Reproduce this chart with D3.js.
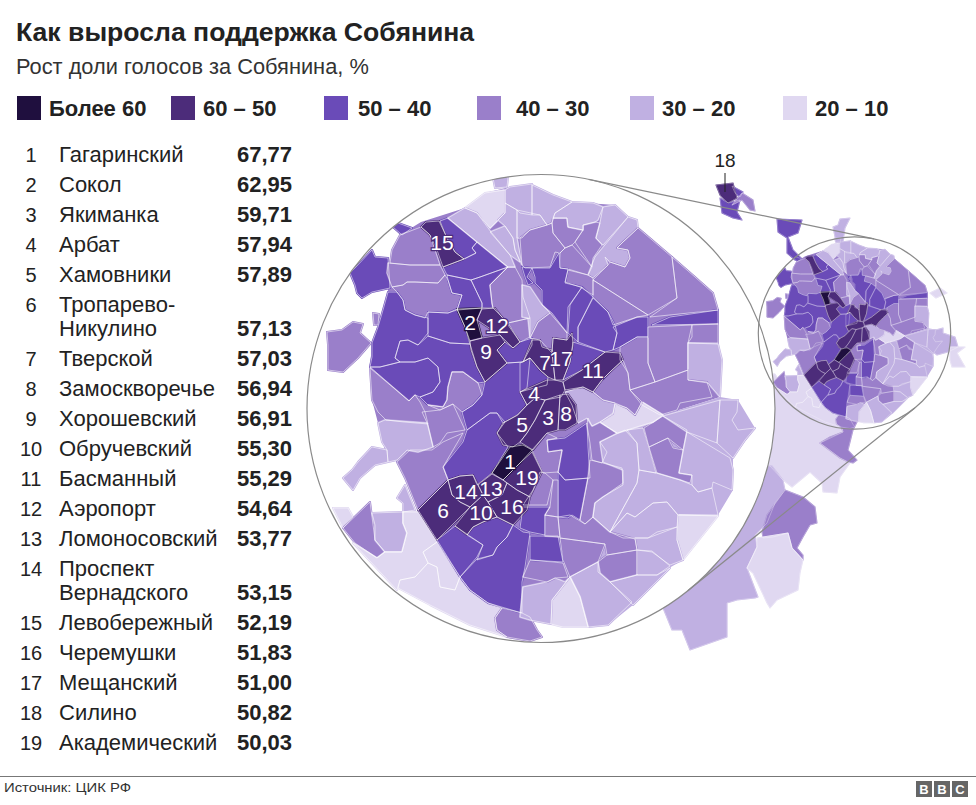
<!DOCTYPE html>
<html>
<head>
<meta charset="utf-8">
<style>
  html, body { margin: 0; padding: 0; background: #fff; }
  text { font-family: "Liberation Sans", Arial, sans-serif; fill: #222; }
</style>
</head>
<body>
<svg id="chart" width="976" height="805"></svg>
<script src="https://cdnjs.cloudflare.com/ajax/libs/d3/7.8.5/d3.min.js"></script>
<script>
// table
var tableNames = [["Гагаринский"],["Сокол"],["Якиманка"],["Арбат"],["Хамовники"],["Тропарево-","Никулино"],["Тверской"],["Замоскворечье"],["Хорошевский"],["Обручевский"],["Басманный"],["Аэропорт"],["Ломоносовский"],["Проспект","Вернадского"],["Левобережный"],["Черемушки"],["Мещанский"],["Силино"],["Академический"]];
var tableValues = [67.77,62.95,59.71,57.94,57.89,57.13,57.03,56.94,56.91,55.30,55.29,54.64,53.77,53.15,52.19,51.83,51.00,50.82,50.03];

// legend
var legendLabels = ["Более 60","60 – 50","50 – 40","40 – 30","30 – 20","20 – 10"];
var legendColors = ["#1f0f3e","#4c2c7a","#6a4bb8","#9a7fca","#c0b0e2","#e0d8f1"];

function d(share, ring){
  return { share: share, ring: ring.trim().split(/\s+/).map(function(p){ return p.split(",").map(Number); }) };
}
function rank(n){ return tableValues[n-1]; }

// map units of the enlarged city; hand traced, shares are estimated from the class colour
var baseDistricts = [
  d(35,"390,263 400,235 421,222 465,208 485,193 510,187 553,195 572,202 615,205 638,228 672,257 713,293 718,310 718,343 722,360 720,397 663,415 600,430 588,520 588,627 551,624 530,620 520,617 488,603 470,590 460,577 437,540 418,510 405,478 397,462 385,450 378,423 372,400 370,367 372,343 378,327 383,310 388,292 387,273"),
  d(25,"588,420 663,415 720,397 738,400 755,428 733,458 733,490 718,515 683,560 657,575 633,605 608,625 588,627")
];
var islandDistricts = [
  d(45,"350,273 355,268 372,250 375,257 388,258 390,288 372,292 362,298 357,293 355,285"),
  d(35,"327,332 342,330 353,322 363,324 360,333 371,343 358,358 343,372 328,370 328,345"),
  d(45,"393,227 398,223 412,228 402,235"),
  d(35,"373,313 379,314 378,325 374,325"),
  d(25,"343,478 352,470 358,462 372,447 387,450 388,462 375,465 360,478 353,490"),
  d(25,"397,498 405,485 415,510 403,512 403,503"),
  d(15,"333,508 348,508 353,517 343,528"),
  d(35,"343,528 370,502 372,517 375,540 385,552 377,558 355,543"),
  d(25,"493,178 508,177 507,187 495,188")
];
var northDistricts = [
  d(35,"390,263 392,250 400,235 421,227 430,235 440,265 410,265"),
  d(35,"388,263 410,265 440,265 445,275 438,283 415,282 407,282 403,285 392,287 387,273"),
  d(35,"392,287 403,285 407,282 415,282 438,283 445,275 448,280 452,293 462,295 457,310 448,313 428,312 425,318 415,315 405,310 403,300 397,292"),
  d(45,"440,221 448,218 477,242 472,248 476,253 464,259 455,252 447,238"),
  d(45,"443,267 464,259 476,253 472,248 477,242 508,267 480,277 471,280 447,275"),
  d(45,"447,275 471,280 482,303 482,308 457,310 462,295 452,293 448,280"),
  d(45,"471,280 480,277 508,267 490,285 492,303 493,308 482,308 482,303"),
  d(35,"490,285 508,267 515,267 522,280 523,297 530,318 508,323 493,308 492,303"),
  d(35,"508,323 530,318 530,337 520,342"),
  d(15,"465,208 485,193 505,190 505,213 498,220 490,228 477,213"),
  d(25,"448,218 465,208 477,213 491,232 510,255 515,267 508,267"),
  d(25,"490,232 505,226 513,238 515,250 520,262 510,255"),
  d(25,"498,220 505,213 505,203 517,210 517,238 522,265 515,250 513,238 505,226"),
  d(25,"505,190 510,187 532,184 532,215 520,213 517,210 505,203"),
  d(25,"532,185 553,195 572,202 555,213 552,223 547,225 540,215 532,215"),
  d(25,"517,210 540,215 547,225 530,230 522,238 517,238"),
  d(35,"520,238 530,230 547,225 552,223 553,233 565,248 560,253 555,252 550,267 525,268 522,265"),
  d(35,"552,223 553,218 567,218 568,227 583,230 575,242 572,245 565,248 553,233"),
  d(35,"583,230 583,225 595,222 600,223 596,238 602,245 593,258 592,267 575,242"),
  d(35,"565,248 572,245 592,267 588,275 568,269 560,268 560,253"),
  d(25,"555,213 572,202 593,203 603,207 598,220 595,222 583,225 583,230 568,227 567,218 553,218"),
  d(25,"603,207 615,205 628,217 603,245 596,238 600,223"),
  d(25,"628,217 637,220 638,228 623,242 617,248 628,250 630,258 625,267 610,262 605,257 608,265 593,278 588,275 595,257"),
  d(35,"638,228 672,257 677,298 648,315 593,280 608,265 610,262 625,267 630,258 628,250 617,248 623,242"),
  d(35,"672,257 695,277 713,293 718,310 650,317 677,298"),
  d(45,"652,325 670,317 718,310 718,324"),
  d(35,"648,327 692,325 692,337 688,343 688,370 655,382 648,363"),
  d(35,"692,325 718,324 718,343 688,343"),
  d(25,"688,343 718,344 722,360 720,397 708,383 688,380"),
  d(35,"630,390 655,382 688,370 688,380 707,382 712,397 680,403 677,410 660,415 642,405"),
  d(35,"620,347 637,337 648,337 648,363 655,382 630,390 628,373 620,360"),
  d(45,"613,327 637,317 648,317 648,337 637,337 620,347 613,350 617,333"),
  d(35,"593,280 648,315 637,317 613,325 608,312 593,297"),
  d(35,"565,282 568,270 588,275 593,278 593,295 580,287"),
  d(45,"532,268 550,268 559,253 560,268 568,269 565,283 582,287 568,307 567,333 552,313 542,305 542,290 535,283 535,277"),
  d(45,"522,267 532,268 527,277 533,283 528,285 525,277"),
  d(45,"582,287 593,297 578,327 578,342 568,333 570,305"),
  d(45,"593,298 608,312 615,325 617,333 613,350 605,352 578,342 578,327"),
  d(25,"522,285 530,287 542,305 550,313 538,322 530,338 528,318 522,317"),
  d(35,"538,322 550,313 567,333 567,340 553,338 552,353 540,340 530,338"),
  d(45,"573,342 605,352 582,370 563,380 570,362"),
  d(rank(15),"421,227 426,222 439,221 447,238 455,252 464,259 443,267 437,250 430,235")
];
var westDistricts = [
  d(45,"388,292 397,292 403,300 405,310 415,315 428,318 428,333 418,345 408,340 400,341 395,358 400,362 380,367 370,367 372,357 372,343 378,327 383,310"),
  d(45,"428,318 428,312 448,313 457,309 465,327 470,344 450,343 428,336"),
  d(45,"395,358 400,341 408,340 418,345 428,336 450,343 470,344 477,367 485,382 478,383 463,372 452,372 448,387 447,400 443,407 428,405 420,397 433,392 440,382 438,367 428,358 415,362 400,362"),
  d(45,"370,367 380,367 400,362 415,362 428,358 438,367 440,382 433,392 420,397 415,395 409,401"),
  d(35,"370,368 409,401 415,395 420,402 425,412 428,424 404,422 386,420 378,412 372,400"),
  d(35,"422,412 440,410 453,404 465,430 447,433 440,443 433,447 428,425"),
  d(35,"448,387 452,372 463,372 478,383 482,395 473,405 462,412 453,404 440,410 428,405 443,407 447,400"),
  d(45,"485,382 507,363 523,362 530,358 527,388 520,392 527,405 517,415 503,423 497,413 490,413 467,430 462,412 473,405 482,395"),
  d(45,"443,467 463,442 467,430 490,413 497,413 505,422 497,433 508,447 492,473 477,485 473,475 460,476 448,480"),
  d(35,"397,462 410,450 432,450 443,442 463,433 443,467 448,480 418,510 405,478"),
  d(25,"378,423 385,420 427,423 433,447 418,452 407,450 397,460 388,462 387,450 382,442"),
  d(25,"372,513 403,512 403,523 407,533 402,552 385,552 375,540 375,525"),
  d(15,"403,512 418,512 437,542 423,552 428,563 415,577 400,580 397,590 353,543 377,558 385,552 402,552 407,533 403,523"),
  d(15,"437,542 460,577 455,590 440,587 437,567 428,563 423,552"),
  d(15,"398,588 400,580 415,577 428,563 437,567 440,587 455,590 460,577 470,590 488,603 502,608 495,618 497,630 507,637 470,625 430,605"),
  d(35,"502,608 522,613 530,617 537,630 542,637 530,641 507,637 497,630 495,618")
];
var southDistricts = [
  d(45,"437,540 455,526 483,545 477,557 460,577"),
  d(45,"467,535 473,527 483,522 497,517 513,525 507,537 497,547 493,555 477,560 483,545"),
  d(45,"460,577 477,559 493,555 497,547 507,537 513,525 523,532 530,533 525,567 522,582 522,613 488,603 470,590"),
  d(25,"627,430 643,428 656,473 639,470 637,443"),
  d(35,"644,428 663,416 687,430 683,450 668,438 649,447"),
  d(35,"649,447 668,438 673,448 683,450 679,473 692,475 690,483 680,480 657,473"),
  d(25,"687,432 730,458 733,470 732,490 713,482 712,488 698,492 692,485 692,475 679,473"),
  d(25,"663,416 720,400 717,443 687,432"),
  d(25,"720,400 738,400 737,412 732,420 738,430 755,428 745,440 733,458 717,443"),
  d(25,"639,470 656,473 680,480 692,485 698,492 712,488 718,515 678,515 667,502 653,503 635,517 627,513 610,532 637,483"),
  d(15,"678,515 718,516 683,560 677,540"),
  d(25,"610,532 627,513 635,517 653,503 667,502 678,515 677,527 657,532 648,538 623,538"),
  d(25,"635,538 648,538 677,527 677,540 683,560 670,565 652,552 637,550"),
  d(25,"637,550 652,551 670,566 657,575 637,575"),
  d(35,"558,517 570,515 585,524 593,517 610,532 635,539 637,550 607,555 605,544 560,538"),
  d(35,"560,538 605,544 598,562 570,577 563,560"),
  d(35,"607,555 637,550 637,575 610,582 598,572 598,562"),
  d(25,"570,577 598,562 600,573 610,582 632,602 608,625 588,627 580,597"),
  d(25,"610,582 637,575 657,575 670,568 633,605"),
  d(15,"570,577 580,597 588,627 563,627 551,624 552,600"),
  d(25,"523,587 547,582 555,578 565,582 570,577 552,600 551,624 530,620 520,617"),
  d(35,"530,560 563,563 568,577 555,578 547,582 523,577"),
  d(45,"530,536 558,536 563,562 530,560"),
  d(35,"545,515 558,517 560,537 545,536"),
  d(45,"523,507 550,507 545,515 545,535 530,532 520,528"),
  d(35,"540,472 545,473 553,480 547,505 523,505 533,490"),
  d(35,"553,480 558,480 558,517 545,515 550,507"),
  d(45,"558,472 565,480 588,478 580,520 572,515 568,518 558,517"),
  d(45,"547,440 565,438 587,423 588,447 590,478 565,480 558,472 562,450 548,452"),
  d(35,"532,450 547,433 557,438 547,440 548,452 562,450 558,472 543,473 540,467"),
  d(35,"590,460 603,463 622,468 623,483 603,497 595,503 593,517 585,524 580,520 588,478"),
  d(35,"588,418 592,426 600,422 617,433 600,442 607,452 602,463 592,460 590,443 587,425"),
  d(25,"600,442 625,430 637,443 639,470 637,483 610,532 593,517 595,503 603,497 623,485 623,470 603,462"),
  d(15,"600,422 613,413 615,404 627,408 635,415 642,402 663,415 653,422 617,433"),
  d(25,"565,392 583,387 593,392 603,400 615,403 613,414 600,422 592,426 587,418 578,423 572,405"),
  d(35,"593,392 602,380 610,372 623,360 628,373 630,390 642,402 635,415 627,408 615,403 603,400")
];
var centerDistricts = [
  d(45,"513,348 520,342 532,338 532,345 523,362 507,363 497,350 505,342"),
  d(45,"520,363 530,358 540,370 548,377 547,385 527,390 520,392"),
  d(rank(2),"457,309 482,308 477,320 482,338 470,341 465,327"),
  d(rank(12),"482,309 495,308 508,325 520,342 513,348 500,335 477,320"),
  d(rank(9),"470,341 482,338 500,335 505,342 497,350 507,363 485,382 477,367 471,350"),
  d(rank(7),"532,340 540,340 542,347 552,350 555,380 548,377 540,370 530,358 523,362"),
  d(rank(17),"553,338 567,340 572,333 573,345 570,362 563,380 555,380 552,353"),
  d(rank(11),"563,382 582,370 605,352 620,353 623,360 610,372 602,380 593,392 583,387 565,390"),
  d(rank(4),"520,392 547,380 555,380 563,382 565,390 561,397 545,400 535,398 527,405"),
  d(rank(5),"497,433 503,423 518,415 527,405 535,398 545,400 535,420 527,433 520,442 513,447 503,445"),
  d(rank(3),"545,400 560,395 558,430 547,433 533,450 520,442 527,433 535,420"),
  d(rank(8),"560,395 568,394 576,405 577,423 565,430 558,430"),
  d(rank(19),"503,480 520,463 532,452 542,472 530,497 517,490"),
  d(rank(1),"492,473 510,447 523,445 532,450 520,463 503,480"),
  d(rank(13),"478,485 492,474 503,480 507,483 502,495 488,502 483,495"),
  d(rank(14),"448,480 460,476 473,475 478,485 483,495 470,507 460,502 452,495"),
  d(rank(6),"418,510 448,480 452,495 460,502 470,507 437,540"),
  d(rank(10),"455,526 470,507 483,495 488,502 497,517 483,522 473,527 467,535"),
  d(rank(16),"488,502 502,495 507,483 517,490 530,497 527,510 513,525 497,517")
];
// regions that only show on the small overview, in overview units
var outerRegions = [
  d(15,"740,380 800,377 813,390 827,407 840,417 843,432 820,443 840,458 850,463 840,477 837,493 823,492 822,483 810,472 792,487 783,480 770,466 740,466"),
  d(25,"760,464 772,466 783,480 785,490 775,503 767,523 755,535 757,547 747,568 758,597 755,598 737,600 727,603 727,637 690,650 682,630 672,630 663,608 700,540"),
  d(35,"767,515 785,490 803,497 815,507 817,523 810,525 803,537 797,548 803,555 803,560 792,548 788,533 773,537 763,538 762,532"),
  d(15,"757,538 763,537 788,533 792,548 803,560 800,573 798,590 777,600 770,608 767,603 753,573 747,568 757,547"),
  d(35,"838,417 857,422 853,430 848,450 857,460 853,463 848,462 840,458 820,443 830,437 843,432"),
  d(45,"720,198 728,203 740,200 737,212 742,220 733,218 722,213"),
  d(45,"732,186 743,192 740,197 735,193"),
  d(35,"742,193 753,200 755,211 750,210 742,200 732,205"),
  d(rank(18),"716,185 733,183 737,198 728,203 720,195"),
  d(45,"777,219 802,220 798,233 788,237 793,250 803,260 795,260 787,253 787,238 778,232"),
  d(25,"833,227 838,225 840,219 850,218 845,228 843,242 837,243 835,237"),
  d(15,"930,293 940,288 947,293 936,298"),
  d(25,"928,332 943,328 943,333 955,337 958,347 948,352 937,355 927,347"),
  d(15,"950,347 965,347 957,353 965,367 952,367 950,360")
];
var cityDistricts = islandDistricts.concat(northDistricts, westDistricts, southDistricts, centerDistricts);

// number labels on the enlarged map, in map units
var labelRanks = [15,2,12,9,7,17,11,4,5,3,8,1,19,14,13,10,6,16];
var labelPoints = [[442,242],[470,322],[497,325],[486,351],[545,362],[561,358],[593,370],[534,393],[522,424],[548,417],[566,413],[510,461],[527,477],[466,491],[491,488],[481,512],[443,510],[512,506]];

var svg = d3.select("#chart");
var color = d3.scaleThreshold().domain([20,30,40,50,60]).range(legendColors.slice().reverse());

// header
svg.append("text").attr("x",16).attr("y",41).style("font-size","26.6px").style("font-weight","bold").text("Как выросла поддержка Собянина");
svg.append("text").attr("x",16).attr("y",74).style("font-size","21.8px").style("fill","#333").text("Рост доли голосов за Собянина, %");

// legend
var legendX = d3.scaleOrdinal().domain(legendLabels).range([17,171,324,477,630,783]);
var legendTextX = d3.scaleOrdinal().domain(legendLabels).range([49,203,358,516,662,815]);
var legend = svg.append("g").selectAll("g").data(legendLabels).join("g");
legend.append("rect").attr("x",function(l){ return legendX(l); }).attr("y",96).attr("width",24).attr("height",24)
  .attr("fill",function(l,i){ return legendColors[i]; });
legend.append("text").attr("x",function(l){ return legendTextX(l); }).attr("y",115.5).style("font-size","22px").style("font-weight","bold").text(function(l){ return l; });

// table
var rowTop = 162;
var table = svg.append("g");
tableNames.forEach(function(lines, i){
  var last = rowTop + (lines.length-1)*24;
  table.append("text").attr("x",31).attr("y",rowTop).attr("text-anchor","middle").style("font-size","20px").text(i+1);
  lines.forEach(function(line,j){
    table.append("text").attr("x",59).attr("y",rowTop+j*24).style("font-size","22px").text(line);
  });
  table.append("text").attr("x",237).attr("y",last).style("font-size","22px").style("font-weight","bold")
    .text(d3.format(".2f")(tableValues[i]).replace(".",","));
  rowTop = last + 30;
});

function toFeature(o){
  return { type:"Feature", share:o.share, geometry:{ type:"Polygon", coordinates:[o.ring.concat([o.ring[0]])] } };
}
function drawMap(g, list, path, lineWidth){
  var features = list.map(toFeature);
  // first pass closes the small gaps of the tracing, second draws the borders
  g.append("g").selectAll("path").data(features).join("path")
    .attr("d",path)
    .attr("fill",function(f){ return color(f.share); })
    .attr("stroke",function(f){ return color(f.share); })
    .attr("stroke-width",lineWidth*2.2)
    .attr("stroke-linejoin","round");
  g.append("g").selectAll("path").data(features).join("path")
    .attr("d",path)
    .attr("fill","none")
    .attr("stroke","#fff")
    .attr("stroke-opacity",0.6)
    .attr("stroke-width",lineWidth);
}
function drawBase(g, path){
  g.append("g").selectAll("path").data(baseDistricts.map(toFeature)).join("path")
    .attr("d",path)
    .attr("fill",function(f){ return color(f.share); });
}

// circles of the zoom
var bigCircle = {x:541, y:408.5, r:234};
var smallCircle = {x:854.5, y:333, r:96.2};
var k = smallCircle.r/bigCircle.r;

// small overview
var overview = svg.append("g");
var overviewPath = d3.geoPath(d3.geoIdentity().scale(k).translate([smallCircle.x-bigCircle.x*k, smallCircle.y-bigCircle.y*k]));
drawMap(overview, outerRegions, d3.geoPath(d3.geoIdentity()), 0.5);
drawBase(overview, overviewPath);
drawMap(overview, cityDistricts, overviewPath, 0.45);

// enlarged city on a white disc
svg.append("clipPath").attr("id","bigClip").append("circle").attr("cx",bigCircle.x).attr("cy",bigCircle.y).attr("r",bigCircle.r);
svg.append("circle").attr("cx",bigCircle.x).attr("cy",bigCircle.y).attr("r",bigCircle.r).attr("fill","#fff");
var enlarged = svg.append("g").attr("clip-path","url(#bigClip)");
var enlargedPath = d3.geoPath(d3.geoIdentity());
drawBase(enlarged, enlargedPath);
drawMap(enlarged, cityDistricts, enlargedPath, 0.9);

var ringColor = "#8a8a8a";
svg.selectAll("circle.ring").data([bigCircle,smallCircle]).join("circle").attr("class","ring")
  .attr("cx",function(c){ return c.x; }).attr("cy",function(c){ return c.y; }).attr("r",function(c){ return c.r; })
  .attr("fill","none").attr("stroke",ringColor).attr("stroke-width",1.2);

// outer tangents between the two circles
var base = Math.atan2(smallCircle.y-bigCircle.y, smallCircle.x-bigCircle.x);
var dist = Math.hypot(smallCircle.x-bigCircle.x, smallCircle.y-bigCircle.y);
var spread = Math.acos((bigCircle.r-smallCircle.r)/dist);
[base-spread, base+spread].forEach(function(a){
  svg.append("line")
    .attr("x1",bigCircle.x+bigCircle.r*Math.cos(a)).attr("y1",bigCircle.y+bigCircle.r*Math.sin(a))
    .attr("x2",smallCircle.x+smallCircle.r*Math.cos(a)).attr("y2",smallCircle.y+smallCircle.r*Math.sin(a))
    .attr("stroke",ringColor).attr("stroke-width",1.2);
});

// numbers
svg.append("g").selectAll("text").data(labelRanks).join("text")
  .attr("x",function(r,i){ return labelPoints[i][0]; })
  .attr("y",function(r,i){ return labelPoints[i][1]+7.5; })
  .attr("text-anchor","middle")
  .style("font-size","21px")
  .style("fill","#fff")
  .style("stroke",function(r){ return color(rank(r)); })
  .style("stroke-width","2.5px")
  .style("paint-order","stroke")
  .text(function(r){ return r; });

// callout for 18
svg.append("text").attr("x",725).attr("y",167).attr("text-anchor","middle").style("font-size","19px").text("18");
svg.append("line").attr("x1",725).attr("x2",725).attr("y1",173).attr("y2",192).attr("stroke","#222").attr("stroke-width",1);

// footer
svg.append("line").attr("x1",0).attr("x2",976).attr("y1",776.5).attr("y2",776.5).attr("stroke","#777").attr("stroke-width",1);
svg.append("text").attr("x",4).attr("y",792).style("font-size","13px").style("fill","#333").attr("textLength",127).attr("lengthAdjust","spacingAndGlyphs").text("Источник: ЦИК РФ");
var bbc = svg.append("g").selectAll("g").data(["B","B","C"]).join("g");
var bbcX = d3.scalePoint().domain([0,1,2]).range([916,952]);
bbc.append("rect").attr("x",function(l,i){ return bbcX(i); }).attr("y",781).attr("width",16).attr("height",16).attr("fill","#666");
bbc.append("text").attr("x",function(l,i){ return bbcX(i)+8; }).attr("y",794).attr("text-anchor","middle")
  .style("font-size","13px").style("font-weight","bold").style("fill","#fff").text(function(l){ return l; });
</script>
</body>
</html>
